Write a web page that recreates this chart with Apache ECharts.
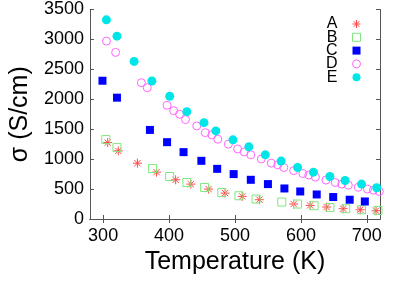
<!DOCTYPE html>
<html>
<head>
<meta charset="utf-8">
<script src="https://cdn.jsdelivr.net/npm/echarts@6/dist/echarts.min.js"></script>
<style>html,body{margin:0;padding:0;background:#fff;}#c{width:415px;height:291px;}</style>
</head>
<body>
<div id="c"></div>
<script>
const seriesNames = ['A', 'B', 'C', 'D', 'E'];
const xTicks = [300, 400, 500, 600, 700];

const tA = [307, 323, 352, 381, 410, 433, 460, 485, 511, 537, 589, 614, 639, 664, 690, 714];
const vA = [1277, 1138, 933, 783, 655, 583, 500, 433, 377, 322, 250, 227, 200, 172, 155, 138];

const tB = [304, 321, 375, 401, 427, 454, 480, 506, 532, 571, 595, 620, 644, 668, 692, 717];
const vB = [1327, 1193, 843, 710, 610, 527, 443, 388, 333, 283, 250, 222, 193, 172, 155, 143];

const tC = [299, 321, 371, 397, 422, 449, 473, 498, 524, 550, 575, 599, 624, 649, 674, 697];
const vC = [2310, 2027, 1488, 1283, 1117, 972, 838, 750, 655, 583, 510, 460, 410, 367, 322, 293];

const tD = [305, 319, 358, 367, 397, 407, 416, 425, 442, 455, 465, 474, 490, 504, 514, 524, 540, 555, 565, 574, 589, 603, 612, 622, 638, 652, 662, 672, 687, 701, 710, 719];
const vD = [2972, 2783, 2277, 2193, 1900, 1810, 1750, 1662, 1555, 1443, 1405, 1333, 1250, 1170, 1120, 1072, 1003, 933, 905, 860, 808, 760, 735, 700, 650, 610, 583, 565, 530, 500, 482, 460];

const tE = [305, 321, 347, 374, 401, 427, 453, 471, 497, 521, 546, 570, 595, 619, 644, 667, 692, 715];
const vE = [3327, 3055, 2633, 2305, 2050, 1793, 1610, 1472, 1322, 1205, 1072, 967, 860, 783, 710, 643, 583, 522];

function pairs(t, v) { return t.map((x, i) => [x, v[i]]); }

const star = 'path://M0,-10L0,10M-10,0L10,0M-7,-7L7,7M-7,7L7,-7';
const axisColor = '#555';
const font = 'Liberation Sans';

const styles = {
  A: {symbol: star, size: 9, itemStyle: {color: 'rgba(0,0,0,0)', borderColor: '#ff4a4a', borderWidth: 1, opacity: 1}},
  B: {symbol: 'rect', size: 8, itemStyle: {color: 'rgba(0,0,0,0)', borderColor: '#7ee87e', borderWidth: 1, opacity: 1}},
  C: {symbol: 'rect', size: 8, itemStyle: {color: '#0000ff', borderWidth: 0, opacity: 1}},
  D: {symbol: 'circle', size: 8, itemStyle: {color: 'rgba(0,0,0,0)', borderColor: '#ff66ff', borderWidth: 1, opacity: 1}},
  E: {symbol: 'circle', size: 9, itemStyle: {color: '#00e6e6', borderWidth: 0, opacity: 1}}
};
const dataMap = {A: [tA, vA], B: [tB, vB], C: [tC, vC], D: [tD, vD], E: [tE, vE]};

const chart = echarts.init(document.getElementById('c'), null, {renderer: 'canvas'});
const axisCommon = {
  min: 280, max: 720,
  axisLine: {show: true, lineStyle: {color: axisColor, width: 1}},
  splitLine: {show: false}
};
chart.setOption({
  animation: false,
  backgroundColor: '#fff',
  textStyle: {fontFamily: font},
  grid: {left: 87, right: 35, top: 9.5, bottom: 72, containLabel: false},
  legend: {
    orient: 'vertical', align: 'right', right: 54, top: 16, padding: 0,
    itemWidth: 8, itemHeight: 8, itemGap: -2.7,
    textStyle: {fontFamily: font, fontSize: 16, color: '#000', lineHeight: 13.3, padding: [0, 10, 0, 0]},
    data: seriesNames.map(n => ({name: n, icon: styles[n].symbol, itemStyle: styles[n].itemStyle}))
  },
  xAxis: [
    Object.assign({}, axisCommon, {
      type: 'value', position: 'bottom',
      name: 'Temperature (K)', nameLocation: 'middle', nameGap: 24,
      nameTextStyle: {fontFamily: font, fontSize: 25, color: '#000'},
      axisTick: {show: true, inside: true, length: 4, lineStyle: {color: axisColor}, customValues: xTicks},
      axisLabel: {show: true, fontSize: 18, color: '#000', margin: 8, fontFamily: font, customValues: xTicks, formatter: v => String(v)}
    }),
    Object.assign({}, axisCommon, {
      type: 'value', position: 'top',
      axisTick: {show: true, inside: true, length: 4, lineStyle: {color: axisColor}, customValues: xTicks},
      axisLabel: {show: false, customValues: xTicks}
    })
  ],
  yAxis: [
    {
      type: 'value', min: 0, max: 3500, interval: 500, position: 'left',
      name: 'σ (S/cm)', nameLocation: 'middle', nameGap: 42, nameRotate: 90,
      nameTextStyle: {fontFamily: font, fontSize: 25, color: '#000'},
      axisLine: {show: true, lineStyle: {color: axisColor, width: 1}},
      axisTick: {show: true, inside: true, length: 4, lineStyle: {color: axisColor}},
      axisLabel: {show: true, fontSize: 18, color: '#000', margin: 6, fontFamily: font, formatter: v => String(v)},
      splitLine: {show: false}
    },
    {
      type: 'value', min: 0, max: 3500, interval: 500, position: 'right',
      axisLine: {show: true, lineStyle: {color: axisColor, width: 1}},
      axisTick: {show: true, inside: true, length: 4, lineStyle: {color: axisColor}},
      axisLabel: {show: false},
      splitLine: {show: false}
    }
  ],
  series: seriesNames.map(n => ({
    name: n, type: 'scatter', data: pairs(dataMap[n][0], dataMap[n][1]),
    symbol: styles[n].symbol, symbolSize: styles[n].size, itemStyle: styles[n].itemStyle,
    emphasis: {disabled: true}
  }))
});
</script>
</body>
</html>
